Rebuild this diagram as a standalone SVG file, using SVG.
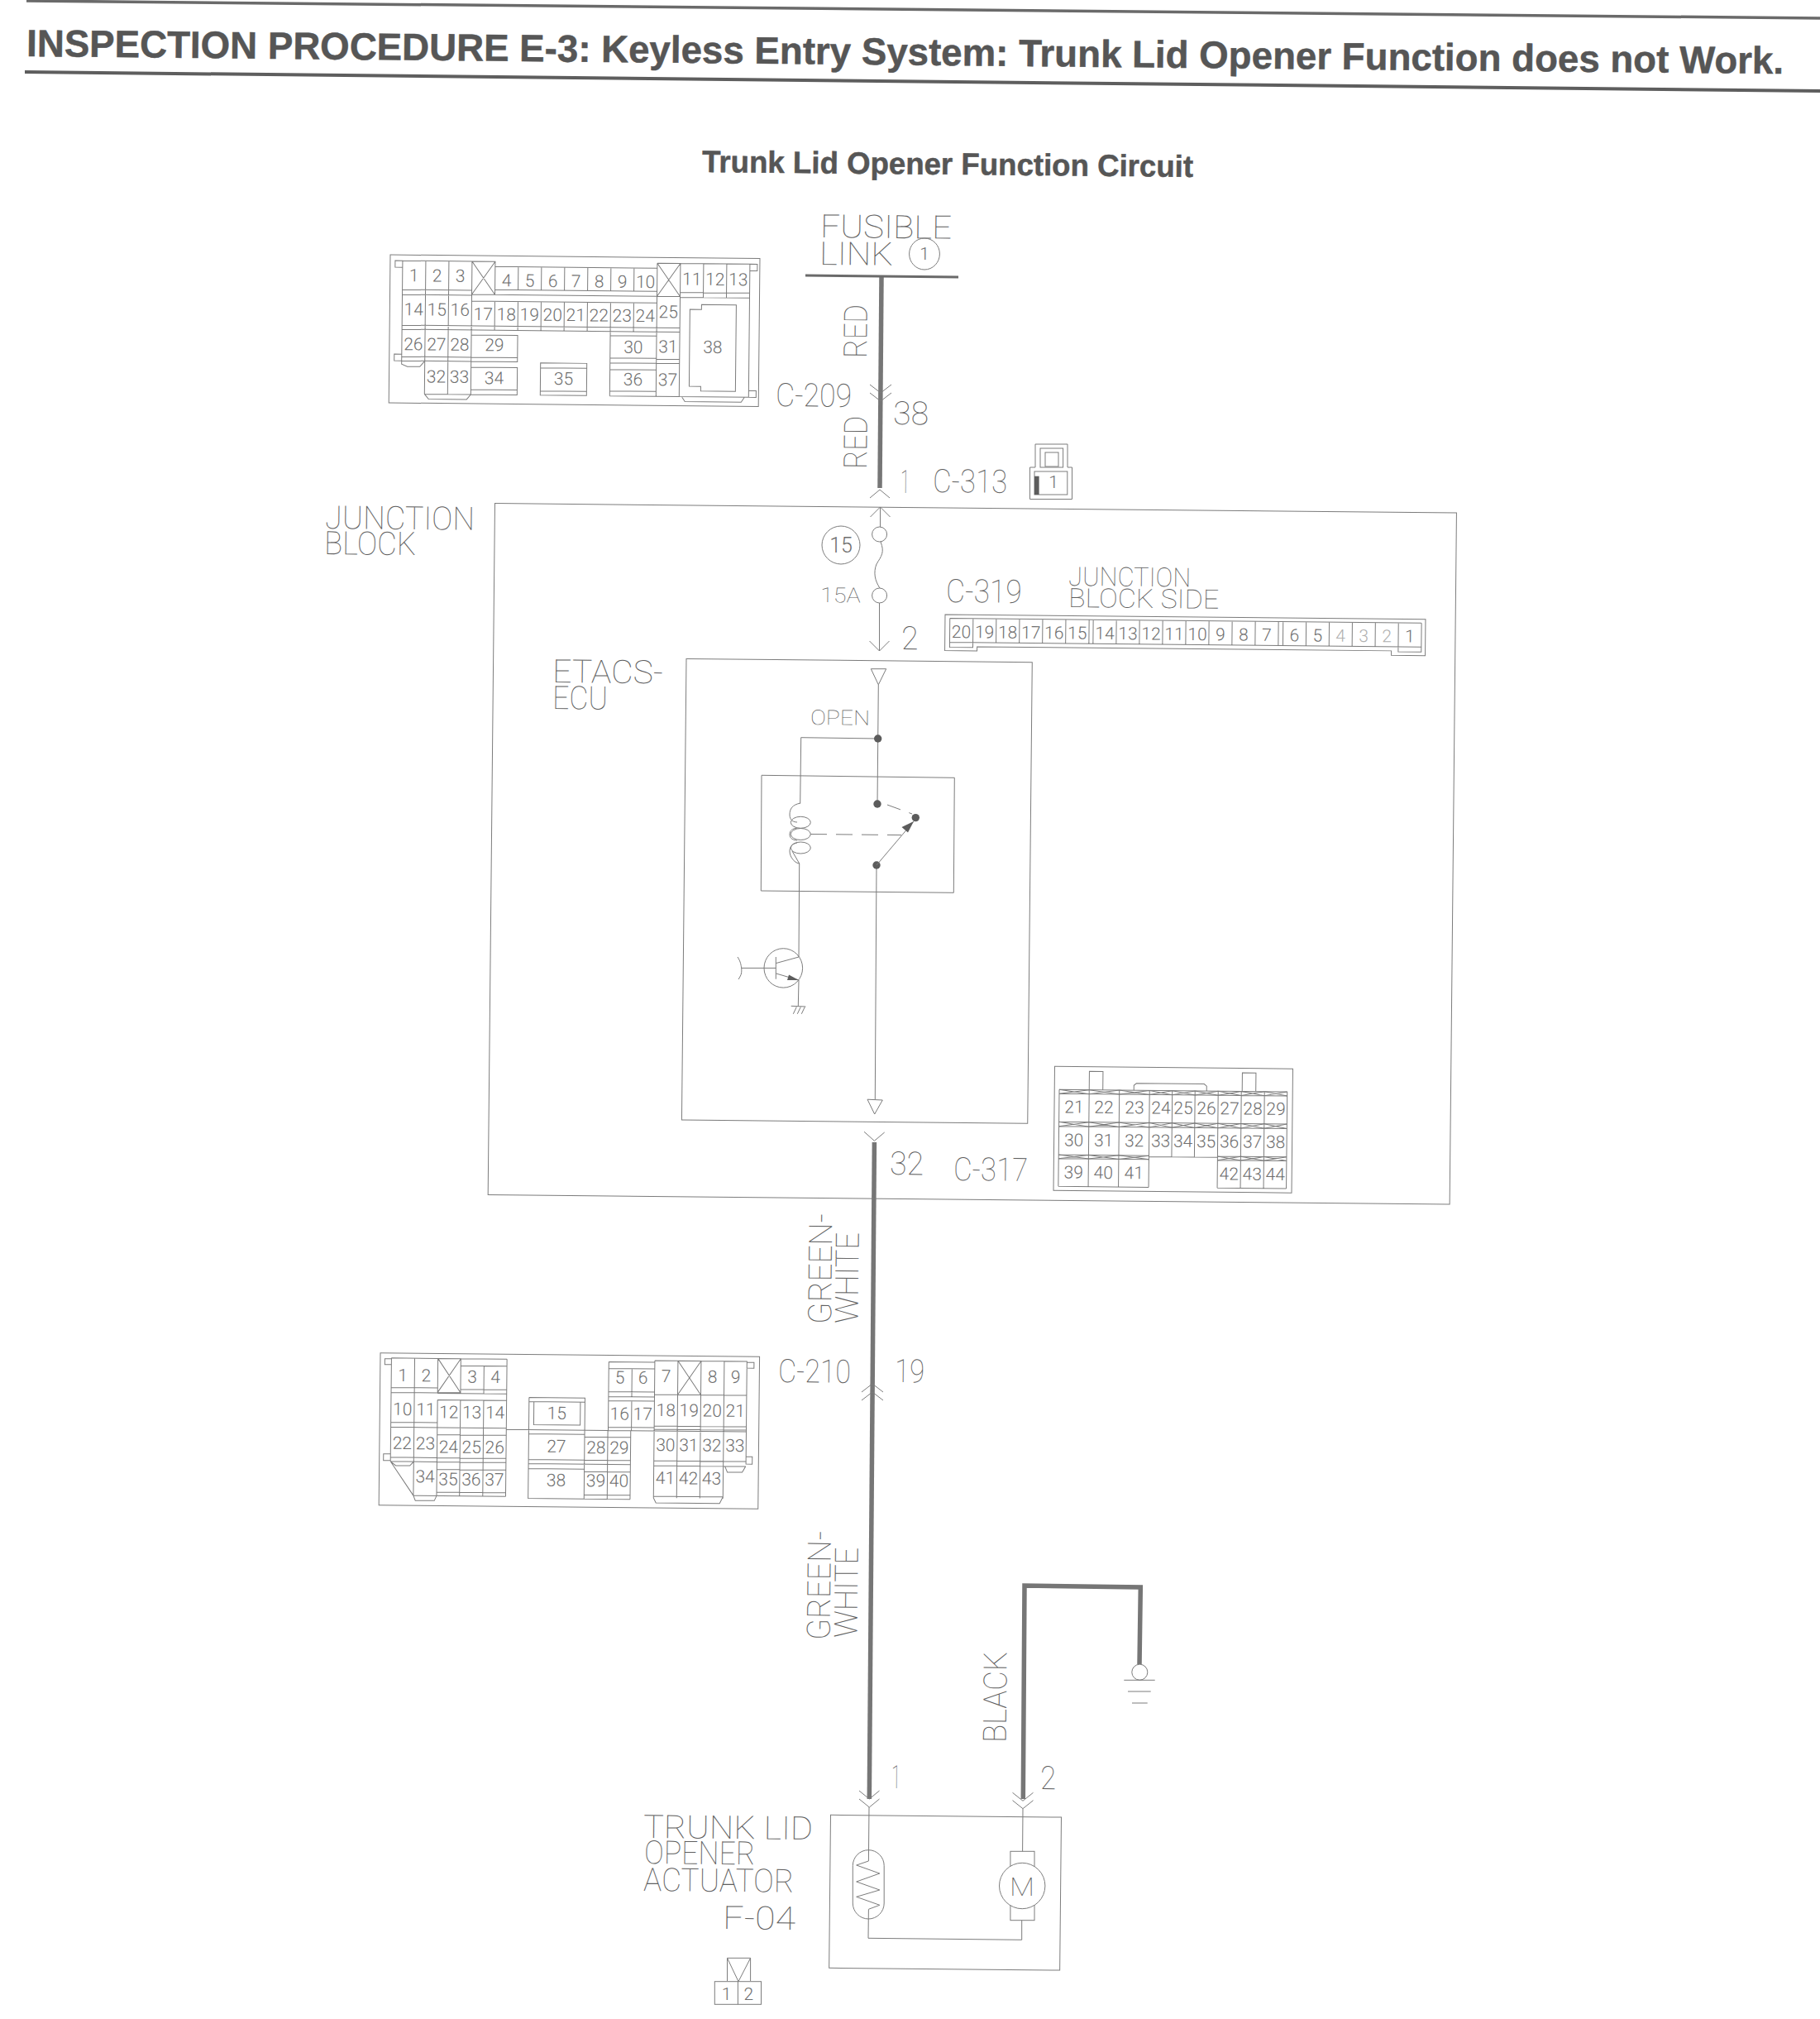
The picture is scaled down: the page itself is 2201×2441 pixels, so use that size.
<svg xmlns="http://www.w3.org/2000/svg" width="2201" height="2441" viewBox="0 0 2201 2441">
<defs><style>
.t{fill:none;stroke:#7c7c7c;stroke-width:1}
.f{fill:#fff;stroke:#7c7c7c;stroke-width:1}
.w{fill:none;stroke:#767676;stroke-width:5.5;stroke-linejoin:miter}
.d{fill:#5c5c5c;stroke:none}
.h{font-family:"Liberation Sans",Arial,sans-serif;font-weight:700;fill:#555;stroke:#555;stroke-width:.5;opacity:.99}
.c{font-family:Roboto,Inter,"Noto Sans",sans-serif;font-weight:100;fill:#5e5e5e;opacity:.99}
.c28{font-size:39px}.c23{font-size:32px}.c18{font-size:25px}
.n{font-family:Roboto,Inter,"Noto Sans",sans-serif;font-weight:300;font-size:21px;fill:#6e6e6e;text-anchor:middle;opacity:.99}
.lt{fill:#b0b0b0}
</style></defs>
<rect width="2201" height="2441" fill="#fff"/>

<g id="title">
<path d="M32 1L2201 22" fill="none" stroke="#6a6a6a" stroke-width="3.5"/>
<path d="M30 87L2201 110" fill="none" stroke="#5e5e5e" stroke-width="4"/>
<text class="h" x="32" y="68" font-size="46" textLength="2125" lengthAdjust="spacingAndGlyphs" transform="rotate(.57 32 68)">INSPECTION PROCEDURE E-3: Keyless Entry System: Trunk Lid Opener Function does not Work.</text>
<text class="h" x="849" y="208" font-size="37" textLength="594" lengthAdjust="spacingAndGlyphs" transform="rotate(.57 849 208)">Trunk Lid Opener Function Circuit</text>
</g>

<g id="connectors">
<path class="w" d="M1066 335L1064 590"/>
<path class="w" d="M1057.4 1381L1051.3 2175"/>
<path class="w" d="M1237.3 2175L1239 1917L1379.3 1919L1378 2012"/>
</g>

<g id="fusible-link">
<path d="M974 333L1159 335" fill="none" stroke="#6a6a6a" stroke-width="3"/>
<text class="c c28" x="992" y="287" textLength="159" lengthAdjust="spacingAndGlyphs" transform="rotate(.57 992 287)">FUSIBLE</text>
<text class="c c28" x="991" y="320" textLength="89" lengthAdjust="spacingAndGlyphs" transform="rotate(.57 991 320)">LINK</text>
<ellipse class="t" cx="1118" cy="307" rx="18.4" ry="19"/>
<text class="n" x="1118" y="314">1</text>
<text class="c c28" x="1048" y="433" textLength="65" lengthAdjust="spacingAndGlyphs" transform="rotate(-89.43 1048 433)">RED</text>
</g>

<g id="c-209-junction">
<path class="t" d="M1052 465L1065 475L1078 465M1052 475L1065 485L1078 475"/>
<text class="c c28" x="1048" y="567" textLength="64" lengthAdjust="spacingAndGlyphs" transform="rotate(-89.43 1048 567)">RED</text>
<text class="c c28" x="938" y="491" textLength="92" lengthAdjust="spacingAndGlyphs" transform="rotate(.57 938 491)">C-209</text>
<text class="c c28" x="1080" y="513" textLength="43" lengthAdjust="spacingAndGlyphs" transform="rotate(.57 1080 513)">38</text>
</g>

<g id="c-209-connector" transform="translate(472 308) rotate(.57)">
<rect class="t" width="447" height="179"/>
<path class="t" d="M15 7H99M15 42H99M15 48H99M15 7V128M43 7V168M71 7V168M99 7V168M15 85H351M15 90H351M15 123H99M15 128H99M43 168H99
M99 7H127V47H99M99 7L127 47M127 7L99 47
M127 13H323M127 41H323M99 47H323M99 55H323
M155 13V41M183 13V41M211 13V41M239 13V41M267 13V41M295 13V41M127 13V41
M127 55V90M155 55V90M183 55V90M211 55V90M239 55V90M267 55V90M295 55V90
M323 7H351V47H323M323 7L351 47M351 7L323 47
M323 7V168M351 7V168M351 7H435M351 42H435M351 48H435M379 7V48M407 7V48M435 7V168M351 168H435
M323 123H351M323 128H351
M99 96H155V128H99M99 123H155
M267 90V168M267 95H323M267 122H323M267 128H323M267 136H323M267 162H323M267 168H351
M99 135H155V168H99M99 162H155
M183 129H239V168H183ZM183 135H239M183 163H239
M6 7H15V15H6ZM435 7H444V15H435ZM6 120H15V128H6ZM435 160H444V168H435Z
M15 128V132L22 135H37L43 128M43 168L48 174H94L99 168M354 168L358 174H426L430 168"/>
<path class="t" d="M363 62.5H377V56.5H419V161H377V155.5H363Z"/>
<text class="n" x="29" y="32">1</text><text class="n" x="57" y="32">2</text><text class="n" x="85" y="32">3</text>
<text class="n" x="141" y="37">4</text><text class="n" x="169" y="37">5</text><text class="n" x="197" y="37">6</text><text class="n" x="225" y="37">7</text><text class="n" x="253" y="37">8</text><text class="n" x="281" y="37">9</text><text class="n" x="309" y="37">10</text>
<text class="n" x="365" y="33">11</text><text class="n" x="393" y="33">12</text><text class="n" x="421" y="33">13</text>
<text class="n" x="29" y="73">14</text><text class="n" x="57" y="73">15</text><text class="n" x="85" y="73">16</text>
<text class="n" x="113" y="78">17</text><text class="n" x="141" y="78">18</text><text class="n" x="169" y="78">19</text><text class="n" x="197" y="78">20</text><text class="n" x="225" y="78">21</text><text class="n" x="253" y="78">22</text><text class="n" x="281" y="78">23</text><text class="n" x="309" y="78">24</text><text class="n" x="337" y="73">25</text>
<text class="n" x="29" y="115">26</text><text class="n" x="57" y="115">27</text><text class="n" x="85" y="115">28</text><text class="n" x="127" y="115">29</text><text class="n" x="295" y="116">30</text><text class="n" x="337" y="115">31</text><text class="n" x="391" y="115">38</text>
<text class="n" x="57" y="154">32</text><text class="n" x="85" y="154">33</text><text class="n" x="127" y="155">34</text><text class="n" x="211" y="155">35</text><text class="n" x="295" y="155">36</text><text class="n" x="337" y="155">37</text>
</g>

<g id="c-313">
<path class="t" d="M1052 602L1064 592L1076 602"/>
<text class="c c28" x="1089" y="596" textLength="11" lengthAdjust="spacingAndGlyphs" transform="rotate(.57 1089 596)">1</text>
<text class="c c28" x="1128" y="595" textLength="90" lengthAdjust="spacingAndGlyphs" transform="rotate(.57 1128 595)">C-313</text>
<path class="t" d="M1252 537H1291V565H1296.5V603.5H1245.5V565H1252Z"/>
<rect class="t" x="1258" y="542" width="27.600" height="23"/>
<rect class="t" x="1264" y="547" width="16" height="17"/>
<rect class="t" x="1251" y="570" width="39.800" height="28"/>
<rect class="d" x="1251" y="575.700" width="5.600" height="22.300"/>
<text class="n" x="1274" y="590">1</text>
</g>

<g id="junction-block">
<rect class="t" transform="translate(598.500 608.500) rotate(.57)" width="1163" height="836"/>
<text class="c c28" x="393" y="639" textLength="181" lengthAdjust="spacingAndGlyphs" transform="rotate(.57 393 639)">JUNCTION</text>
<text class="c c28" x="392" y="670" textLength="111" lengthAdjust="spacingAndGlyphs" transform="rotate(.57 392 670)">BLOCK</text>
</g>

<g id="fuse-15">
<path class="t" d="M1052.500 625L1064.500 613L1076.500 625M1064.500 613V637"/>
<circle class="t" cx="1063.600" cy="646" r="9"/>
<path class="t" d="M1065 655C1070 668 1066 672 1060 682C1056 692 1058 702 1064 711"/>
<circle class="t" cx="1063.600" cy="720" r="9"/>
<path class="t" d="M1063.500 729V787M1051.500 775L1063.500 787L1075.500 775"/>
<circle class="t" cx="1017" cy="659" r="23"/>
<text class="n" x="1017" y="668" style="font-size:25px">15</text>
<text class="c c18" x="992" y="728" textLength="48.600" lengthAdjust="spacingAndGlyphs" transform="rotate(.57 992 728)">15A</text>
<text class="c c28" x="1090" y="785" textLength="20.500" lengthAdjust="spacingAndGlyphs" transform="rotate(.57 1090 785)">2</text>
</g>

<g id="c-319">
<text class="c c28" x="1144" y="728" textLength="91.500" lengthAdjust="spacingAndGlyphs" transform="rotate(.57 1144 728)">C-319</text>
<text class="c c23" x="1292" y="708" textLength="148" lengthAdjust="spacingAndGlyphs" transform="rotate(.57 1292 708)">JUNCTION</text>
<text class="c c23" x="1292" y="734" textLength="182" lengthAdjust="spacingAndGlyphs" transform="rotate(.57 1292 734)">BLOCK SIDE</text>
<g transform="translate(1143 743) rotate(.57)">
<path class="t" d="M0 0H581V44H540V38.500H39V43.500H0Z"/>
<path class="t" d="M5.800 4.500H576M5.800 33.500H576M5.800 4.500V39.500H33.900V4.500M61.900 4.500V33.500M90 4.500V33.500M118 4.500V33.500M146 4.500V33.500M174.200 4.500V33.500M179.200 4.500V33.500M207.200 4.500V33.500M235.200 4.500V33.500M263.200 4.500V33.500M291.200 4.500V33.500M319.200 4.500V33.500M347.200 4.500V33.500M375.200 4.500V33.500M403.200 4.500V33.500M408.800 4.500V33.500M436.700 4.500V33.500M464.600 4.500V33.500M492.500 4.500V33.500M520.400 4.500V33.500M548.300 4.500V39.500H576.200V4.500"/>
<text class="n" x="19.800" y="28">20</text><text class="n" x="47.900" y="28">19</text><text class="n" x="75.900" y="28">18</text><text class="n" x="104" y="28">17</text><text class="n" x="132" y="28">16</text><text class="n" x="160" y="28">15</text>
<text class="n" x="193.200" y="28">14</text><text class="n" x="221.200" y="28">13</text><text class="n" x="249.200" y="28">12</text><text class="n" x="277.200" y="28">11</text><text class="n" x="305.200" y="28">10</text><text class="n" x="333.200" y="28">9</text><text class="n" x="361.200" y="28">8</text><text class="n" x="389.200" y="28">7</text>
<text class="n" x="422.700" y="28">6</text><text class="n" x="450.600" y="28">5</text><text class="n lt" x="478.500" y="28">4</text><text class="n lt" x="506.400" y="28">3</text><text class="n lt" x="534.300" y="28">2</text><text class="n" x="562.200" y="28">1</text>
</g>
</g>

<g id="etacs-ecu">
<rect class="t" transform="translate(830 796.500) rotate(.57)" width="418.300" height="557.500"/>
<text class="c c28" x="668" y="825" textLength="134" lengthAdjust="spacingAndGlyphs" transform="rotate(.57 668 825)">ETACS-</text>
<text class="c c28" x="668" y="857" textLength="67" lengthAdjust="spacingAndGlyphs" transform="rotate(.57 668 857)">ECU</text>
<text class="c c18" x="980" y="876" textLength="72" lengthAdjust="spacingAndGlyphs" transform="rotate(.57 980 876)">OPEN</text>
<path class="t" d="M1053.300 808.700H1071.700L1062.300 827.800ZM1062.300 828L1061 972M1061.700 893L968.700 891.700L967.700 971.400"/>
<path class="t" d="M1060 1046L1058.300 1329M1049 1329.200L1067.300 1330L1057.700 1347Z"/>
<circle class="d" cx="1061.700" cy="893" r="4.700"/><circle class="d" cx="1061" cy="972" r="4.700"/><circle class="d" cx="1107.300" cy="988.600" r="4.700"/><circle class="d" cx="1060" cy="1046" r="4.700"/>
<path class="t" d="M921 937.300L1154.300 940.300L1153.300 1079.300L920.300 1077Z"/>
<path class="t" d="M968 971C958 973 955 978 955 985C955 992 960 994 964 994M964 1001C958 1002 955 1004 955 1009C955 1014 960 1016 964 1016M964 1019C958 1020 955 1024 955 1029C955 1037 962 1044 967 1044M958 1029L966.700 1044L966 1157"/>
<ellipse class="t" cx="968.300" cy="994.300" rx="12" ry="7"/><ellipse class="t" cx="968.300" cy="1008.500" rx="12" ry="7"/><ellipse class="t" cx="968.300" cy="1025" rx="12" ry="7"/>
<path class="t" stroke-dasharray="20 11" d="M980 1008.500L1090 1009.600"/>
<path class="t" stroke-dasharray="17 11" d="M1073 973L1103 984"/>
<path class="t" d="M1060 1046L1105 993"/>
<path class="d" d="M1105 993L1098 1006.500L1090.500 1000Z"/>
<ellipse class="t" cx="947.300" cy="1170.400" rx="23.300" ry="23.700"/>
<path class="t" d="M892 1157C896 1163 896 1167 896.700 1170C897 1176 897 1178 893 1184M896.700 1170.400H938.300M938.300 1157V1183.700M938.300 1164.600L966 1157M938.300 1176.900L966 1185L965.300 1216.300M956.700 1216.300L974.300 1217M963.300 1217.400L959.300 1225.800M968.300 1217.400L964.300 1225.800M973.300 1217.400L969.300 1225.800"/>
<path class="d" d="M966 1185L952 1185L954 1178.500Z"/>
</g>

<g id="c-317">
<path class="t" d="M1045 1368.300L1057.400 1379.300L1069.700 1369"/>
<text class="c c28" x="1076" y="1420" textLength="41" lengthAdjust="spacingAndGlyphs" transform="rotate(.57 1076 1420)">32</text>
<text class="c c28" x="1153" y="1427" textLength="90" lengthAdjust="spacingAndGlyphs" transform="rotate(.57 1153 1427)">C-317</text>
<g transform="translate(1275.500 1289.300) rotate(.57)">
<rect class="t" width="288" height="150"/>
<path class="t" d="M42 28V5.500H58.500V28M227 28V5.500H243.500V28M96 28V22L99 19.500H181L184 22V28"/>
<path class="t" d="M5.800 28H281.500M5.800 33H281.500M5.800 67H281.500M5.800 72.500H281.500M5.800 106.700H115M5.800 111.400H115M115 108H198M198 106.700H281.500M198 111.400H281.500M5.800 145H115M198 145H281.500
M5.800 28V145M42 28V145M78.500 28V145M115 28V145M142.500 28V108M170 28V108M198 28V145M226 28V145M254 28V145M281.500 28V145"/>
<path class="t" d="M5.800 28L42 33M5.800 33L42 28M42 28L78.500 33M42 33L78.500 28M78.500 28L115 33M78.500 33L115 28M115 28L142.500 33M115 33L142.500 28M142.500 28L170 33M142.500 33L170 28M170 28L198 33M170 33L198 28M198 28L226 33M198 33L226 28M226 28L254 33M226 33L254 28M254 28L281.500 33M254 33L281.500 28
M5.800 67L42 72.500M5.800 72.500L42 67M42 67L78.500 72.500M42 72.500L78.500 67M78.500 67L115 72.500M78.500 72.500L115 67M115 67L142.500 72.500M115 72.500L142.500 67M142.500 67L170 72.500M142.500 72.500L170 67M170 67L198 72.500M170 72.500L198 67M198 67L226 72.500M198 72.500L226 67M226 67L254 72.500M226 72.500L254 67M254 67L281.500 72.500M254 72.500L281.500 67
M5.800 106.700L42 111.400M5.800 111.400L42 106.700M42 106.700L78.500 111.400M42 111.400L78.500 106.700M78.500 106.700L115 111.400M78.500 111.400L115 106.700M198 106.700L226 111.400M198 111.400L226 106.700M226 106.700L254 111.400M226 111.400L254 106.700M254 106.700L281.500 111.400M254 111.400L281.500 106.700"/>
<text class="n" x="24" y="56">21</text><text class="n" x="60" y="56">22</text><text class="n" x="97" y="56">23</text><text class="n" x="129" y="56">24</text><text class="n" x="156" y="56">25</text><text class="n" x="184" y="56">26</text><text class="n" x="212" y="56">27</text><text class="n" x="240" y="56">28</text><text class="n" x="268" y="56">29</text>
<text class="n" x="24" y="96">30</text><text class="n" x="60" y="96">31</text><text class="n" x="97" y="96">32</text><text class="n" x="129" y="96">33</text><text class="n" x="156" y="96">34</text><text class="n" x="184" y="96">35</text><text class="n" x="212" y="96">36</text><text class="n" x="240" y="96">37</text><text class="n" x="268" y="96">38</text>
<text class="n" x="24" y="135">39</text><text class="n" x="60" y="135">40</text><text class="n" x="97" y="135">41</text><text class="n" x="212" y="135">42</text><text class="n" x="240" y="135">43</text><text class="n" x="268" y="135">44</text>
</g>
</g>

<g id="green-white-labels">
<text class="c c28" x="1005" y="1601" textLength="134" lengthAdjust="spacingAndGlyphs" transform="rotate(-89.43 1005 1601)">GREEN-</text>
<text class="c c28" x="1037.500" y="1600" textLength="110" lengthAdjust="spacingAndGlyphs" transform="rotate(-89.43 1037.500 1600)">WHITE</text>
<text class="c c28" x="1003.500" y="1983" textLength="132" lengthAdjust="spacingAndGlyphs" transform="rotate(-89.43 1003.500 1983)">GREEN-</text>
<text class="c c28" x="1036.500" y="1980" textLength="109" lengthAdjust="spacingAndGlyphs" transform="rotate(-89.43 1036.500 1980)">WHITE</text>
</g>

<g id="c-210">
<path class="t" d="M1042 1683L1055 1673L1068 1683M1042 1693L1055 1683L1068 1693"/>
<text class="c c28" x="941" y="1671" textLength="88" lengthAdjust="spacingAndGlyphs" transform="rotate(.57 941 1671)">C-210</text>
<text class="c c28" x="1082" y="1671" textLength="36" lengthAdjust="spacingAndGlyphs" transform="rotate(.57 1082 1671)">19</text>
<g transform="translate(460 1635.700) rotate(.57)">
<rect class="t" width="458.600" height="184"/>
<path class="t" d="M13.500 6H69.700M13.500 41.600H69.700M13.500 47.600H69.700M13.500 6V131M41.600 6V172M69.700 6V47M13.500 83.600H69.700M13.500 89.500H153.200M13.500 126H69.700M13.500 131H69.700M13.500 131L41.600 172
M69.700 6H97.400V47H69.700ZM69.700 6L97.400 47M97.400 6L69.700 47
M97.400 6H153.200M97.400 14.500H153.200M97.400 43H153.200M69.700 48H153.200M125.500 14.500V48M153.200 6V172
M69.700 56H153.200M69.700 56V172M97.400 56V172M125.500 56V172M69.700 98H153.200M69.700 126H153.200M69.700 131H153.200M69.700 140H153.200M69.700 167.500H153.200M41.600 172H153.200
M5.500 7H13.500V14H5.500ZM5 122H13.500V130H5ZM443.400 7H452V14H443.400ZM443.400 121H451V130H443.400Z
M13.500 131L20 136H37L41.600 131M41.600 172L44 178H67L69.700 172
M153.200 91H276.400
M180.400 52H248V91M180.400 52V174H248M180.400 57H248M186.300 57V85H242.500V57M180.400 96H248M180.400 127H248M180.400 132H303.700M180.400 138H248M248 91V174M248 99H303.700M248 127H303.700M276 91V174M303.700 91V174M248 141H303.700M248 169H303.700M248 174H303.700
M276.400 8V91M276.400 8H332M276.400 16H332M276.400 44H332M276.400 50H332M304.500 16V50M276.400 55H332M304.500 55V91M276.400 87H332M276.400 91H443.400
M332 6V172M332 6H360M360 6H388V47H360ZM360 6L388 47M388 6L360 47M332 47H388M388 6H443.400V128M388 47H443.400M416 6V47M360 47V172M388 47V172M416 47V172M332 85H443.400M332 89H443.400M332 127H443.400M332 133H443.400M332 170H416M416 133V170M332 172L335 178H412L416 170M418 133L421 140H439L443 133"/>
<text class="n" x="27.500" y="34">1</text><text class="n" x="55.600" y="34">2</text><text class="n" x="111.400" y="35">3</text><text class="n" x="139.400" y="35">4</text><text class="n" x="290" y="34">5</text><text class="n" x="318" y="34">6</text><text class="n" x="346" y="32">7</text><text class="n" x="402" y="32">8</text><text class="n" x="430" y="32">9</text>
<text class="n" x="27.500" y="75">10</text><text class="n" x="55.600" y="75">11</text><text class="n" x="83.500" y="78">12</text><text class="n" x="111.400" y="78">13</text><text class="n" x="139.400" y="78">14</text><text class="n" x="214" y="78">15</text><text class="n" x="290" y="78">16</text><text class="n" x="318" y="78">17</text><text class="n" x="346" y="73">18</text><text class="n" x="374" y="73">19</text><text class="n" x="402" y="73">20</text><text class="n" x="430" y="73">21</text>
<text class="n" x="27.500" y="116">22</text><text class="n" x="55.600" y="116">23</text><text class="n" x="83.500" y="120">24</text><text class="n" x="111.400" y="120">25</text><text class="n" x="139.400" y="120">26</text><text class="n" x="214" y="118">27</text><text class="n" x="262" y="119">28</text><text class="n" x="290" y="119">29</text><text class="n" x="346" y="115">30</text><text class="n" x="374" y="115">31</text><text class="n" x="402" y="115">32</text><text class="n" x="430" y="115">33</text>
<text class="n" x="55.600" y="156">34</text><text class="n" x="83.500" y="159">35</text><text class="n" x="111.400" y="159">36</text><text class="n" x="139.400" y="159">37</text><text class="n" x="214" y="159">38</text><text class="n" x="262" y="159">39</text><text class="n" x="290" y="159">40</text><text class="n" x="346" y="155">41</text><text class="n" x="374" y="155">42</text><text class="n" x="402" y="155">43</text>
</g>
</g>

<g id="ground">
<circle class="t" cx="1378.300" cy="2021.700" r="9.500"/>
<path class="t" d="M1359.300 2031.300H1396.700M1364 2045H1391.700M1369 2059H1387.700"/>
<text class="c c28" x="1216.500" y="2107" textLength="110" lengthAdjust="spacingAndGlyphs" transform="rotate(-89.43 1216.500 2107)">BLACK</text>
</g>

<g id="trunk-lid-opener-actuator">
<text class="c c28" x="778" y="2222" textLength="205" lengthAdjust="spacingAndGlyphs" transform="rotate(.57 778 2222)">TRUNK LID</text>
<text class="c c28" x="779" y="2253" textLength="134" lengthAdjust="spacingAndGlyphs" transform="rotate(.57 779 2253)">OPENER</text>
<text class="c c28" x="778" y="2286" textLength="182" lengthAdjust="spacingAndGlyphs" transform="rotate(.57 778 2286)">ACTUATOR</text>
<text class="c c28" x="874" y="2332" textLength="88" lengthAdjust="spacingAndGlyphs" transform="rotate(.57 874 2332)">F-04</text>
<rect class="t" transform="translate(1004.500 2194.300) rotate(.57)" width="279" height="185"/>
<path class="t" d="M1039 2165L1051.300 2175L1063.500 2165M1039 2175L1051.300 2185L1063.500 2175M1224.500 2167.300L1237 2177.300L1249.500 2167.300M1224.500 2176.700L1237 2186.700L1249.500 2176.700"/>
<text class="c c28" x="1078" y="2162" textLength="11" lengthAdjust="spacingAndGlyphs" transform="rotate(.57 1078 2162)">1</text>
<text class="c c28" x="1258" y="2163" textLength="19" lengthAdjust="spacingAndGlyphs" transform="rotate(.57 1258 2163)">2</text>
<rect class="t" x="1031.300" y="2236.700" width="37.900" height="83.300" rx="19" ry="19"/>
<path class="t" d="M1051 2185L1050.400 2250L1035.700 2255L1063.800 2265L1035.700 2275L1063.800 2285L1035.700 2293.300L1063.800 2303.300L1050.400 2308.300L1050 2343.300L1235.700 2345.300L1235.700 2321.700"/>
<path class="t" d="M1237 2187L1236.600 2238.300"/>
<rect class="t" x="1221.900" y="2238.300" width="29.100" height="83.400"/>
<circle class="f" cx="1236.200" cy="2280" r="27.700"/>
<text class="c c23" x="1221" y="2292" textLength="30" lengthAdjust="spacingAndGlyphs">M</text>
<path class="t" d="M879.500 2395V2367.300H907.600V2395M879.500 2367.300L893 2395.700L907.600 2367.300"/>
<rect class="t" x="864.300" y="2395.700" width="56.200" height="27.600"/>
<path class="t" d="M892.400 2395.700V2423.300"/>
<text class="n" x="878.600" y="2417.500">1</text><text class="n" x="905.400" y="2417.500">2</text>
</g>
</svg>
